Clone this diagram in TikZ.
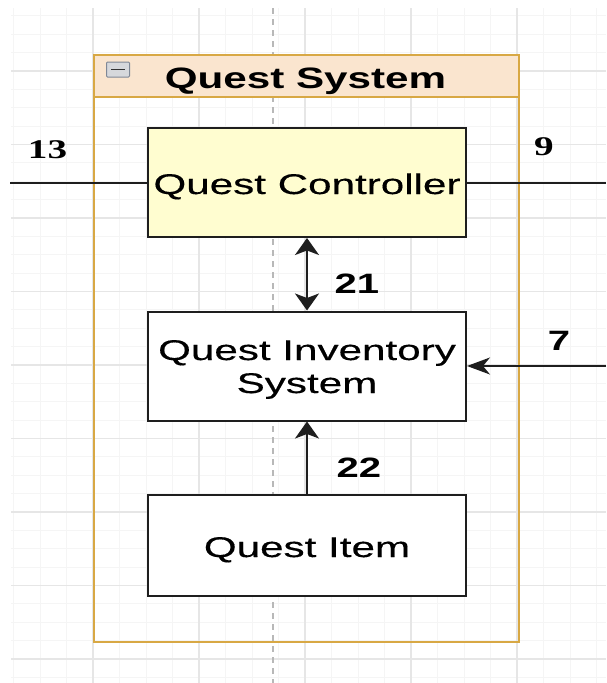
\documentclass[tikz,border=0pt]{standalone}
\usepackage{fontspec}
\usetikzlibrary{arrows.meta}
\newfontfamily\qsans[FakeStretch=1.48,FakeBold=0.4]{Liberation Sans}
\newfontfamily\qhead[FakeStretch=1.43]{Liberation Sans}
\newfontfamily\qserif[FakeStretch=1.45]{Liberation Serif}
\definecolor{gridmajor}{HTML}{E6E6E6}
\definecolor{gridminor}{HTML}{F5F5F5}
\definecolor{guide}{HTML}{B8B8B8}
\definecolor{gold}{HTML}{D8A844}
\definecolor{headerfill}{HTML}{FAE5CF}
\definecolor{ctrlfill}{HTML}{FFFDD0}
\definecolor{boxline}{HTML}{1E1E1E}
\definecolor{iconline}{HTML}{7F8896}
\definecolor{iconfill}{HTML}{D6D8DC}
\tikzset{
  compbox/.style={draw=boxline, line width=2pt, fill=white, minimum width=318pt,
    align=center, inner sep=0pt, font=\qsans\fontsize{28.5}{33}\selectfont},
  conn/.style={draw=boxline, line width=1.8pt},
  vhead/.style={-{Stealth[length=17pt,width=24pt,inset=4.5pt]}},
  bhead/.style={{Stealth[length=17pt,width=24pt,inset=4.5pt]}-{Stealth[length=17pt,width=24pt,inset=4.5pt]}},
  hhead/.style={-{Stealth[length=23pt,width=17pt,inset=7pt]}},
  numlbl/.style={anchor=base, inner sep=0pt, font=\qhead\bfseries\fontsize{28}{33}\selectfont},
  serlbl/.style={anchor=base, inner sep=0pt, font=\qserif\bfseries\fontsize{27}{32}\selectfont}
}
\begin{document}
\begin{tikzpicture}[x=1pt,y=-1pt]
\useasboundingbox (0,0) rectangle (606,683);
\fill[white] (0,0) rectangle (606,683);
% grid
\begin{scope}
\clip (11,8) rectangle (606,683);
\foreach \i in {0,...,22} \draw[gridminor, line width=1pt] ({13.5+26.5*\i},8) -- ({13.5+26.5*\i},683);
\foreach \j in {0,...,36} \draw[gridminor, line width=1pt] (11,{15.875+18.375*\j}) -- (606,{15.875+18.375*\j});
\foreach \i in {0,...,4} \draw[gridmajor, line width=1.3pt] ({93+106*\i},8) -- ({93+106*\i},683);
\foreach \j in {0,...,8} \draw[gridmajor, line width=1.3pt] (11,{71+73.5*\j}) -- (606,{71+73.5*\j});
\end{scope}
\draw[guide, line width=1.5pt, dash pattern=on 6pt off 5pt] (273,8) -- (273,683);
% container
\node[draw=gold, line width=2pt, minimum width=425pt, minimum height=587pt, inner sep=0pt] (qs) at (306.5,348) {};
\node[draw=gold, fill=headerfill, line width=2pt, minimum width=425pt, minimum height=42pt, inner sep=0pt] (hdr) at (306.5,75.5) {};
\node[anchor=base, inner sep=0pt, font=\qhead\bfseries\fontsize{29.5}{34}\selectfont] (title) at (305.5,88) {Quest System};
\node[draw=iconline, fill=iconfill, line width=1pt, rounded corners=1pt, minimum width=23pt, minimum height=15pt, inner sep=0pt] (icon) at (118,69.5) {};
\draw[black!80, line width=1.6pt] ([xshift=5pt]icon.west) -- ([xshift=-5pt]icon.east);
% boxes
\node[compbox, fill=ctrlfill, minimum height=109pt, text height=23pt, text depth=0pt] (ctrl) at (307,182.5) {Quest Controller};
\node[compbox, minimum height=109pt, text height=54pt, text depth=0pt] (inv) at (307,366) {Quest Inventory\\[0pt]System};
\node[compbox, minimum height=101pt, text height=23pt, text depth=0pt] (item) at (307,545.5) {Quest Item};
% free ends
\coordinate (lend) at (10,183);
\coordinate (rend) at (606,183);
\coordinate (rin) at (606,366);
% connectors
\draw[conn] (lend) -- (ctrl.west |- lend);
\draw[conn] (ctrl.east |- rend) -- (rend);
\draw[conn, bhead] (ctrl.south) -- (inv.north);
\draw[conn, hhead] (rin) -- (inv.east |- rin);
\draw[conn, vhead] (item.north) -- (inv.south);
% labels
\node[serlbl] (l13) at (47.5,158) {13};
\node[serlbl] (l9) at (544,155) {9};
\node[numlbl] (l21) at (357,293) {21};
\node[numlbl] (l7) at (559,350) {7};
\node[numlbl] (l22) at (359,477) {22};
\end{tikzpicture}
\end{document}
